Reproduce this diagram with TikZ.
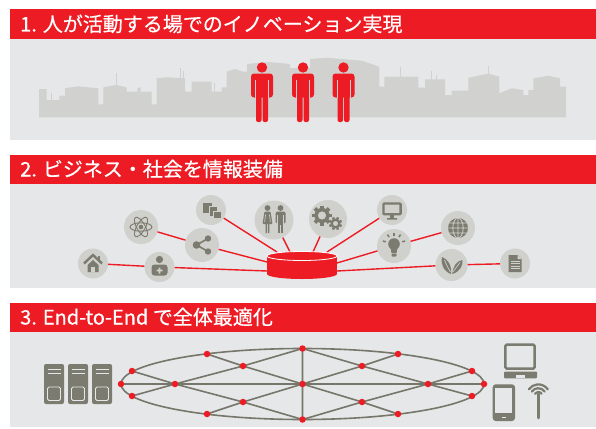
\documentclass[tikz,border=0pt]{standalone}
\usepackage{fontspec}
\newfontfamily\jpfont[FakeBold=0.5]{Noto Sans CJK JP}
\usepackage{tikz}
\usetikzlibrary{calc}
\definecolor{fjred}{HTML}{ED1C24}
\definecolor{panelgray}{HTML}{E6E7E8}
\definecolor{citygray}{HTML}{D1D1CF}
\definecolor{iconbg}{HTML}{D0D0CC}
\definecolor{icongray}{HTML}{7B7B6F}
\definecolor{netgray}{HTML}{76766A}

\begin{document}
\begin{tikzpicture}[x=1pt, y=-1pt]

        % Setup the styles for bars, icons and the mesh
        \tikzset{bar/.style={fill=fjred},
                 panel/.style={fill=panelgray},
                 title/.style={anchor=base west, inner sep=0pt, text=white,
                               font=\jpfont\fontsize{20}{24}\selectfont},
                 icon/.style={circle, fill=iconbg, inner sep=0pt, minimum size=#1},
                 icon/.default=30pt,
                 link/.style={draw=fjred, line width=1.4pt},
                 glyph/.style={fill=icongray, draw=none},
                 mesh/.style={draw=netgray, line width=1.6pt},
                 dot/.style={circle, fill=fjred, inner sep=0pt, minimum size=6.5pt}}

        \useasboundingbox (0,0) rectangle (596,428);

        % Draw the panels
        \foreach \top/\bot in {9.5/140, 154.5/287.5, 302.5/427} {
            \fill[panel] (10,\top) rectangle (596,\bot);
            \fill[bar] (10,\top) rectangle (596,\top+29.5);
        }
        \node[title] at (20, 31.5)  (title1) {1. 人が活動する場でのイノベーション実現};
        \node[title] at (20, 176.5) (title2) {2. ビジネス・社会を情報装備};
        \node[title] at (20, 324.5) (title3) {3. End-to-End で全体最適化};

        % Draw the skyline
        \fill[citygray] (39,117.3) -- (39,89) -- (46.7,89) -- (46.7,100) -- (59.3,100)
            -- (59.3,95.7) -- (65,95.7) -- (65,88.3) -- (78.3,86.3) -- (98.3,88.3)
            -- (98.3,104.3) -- (103.3,104.3) -- (103.3,87.3) -- (116,85) -- (126.7,87.3)
            -- (126.7,91.7) -- (137.3,91.7) -- (137.3,87.7) -- (140.7,87.7) -- (140.7,91.7)
            -- (151.7,91.7) -- (151.7,104.3) -- (156.7,104.3) -- (156.7,78.3) -- (166.7,77.3)
            -- (185,78.3) -- (185,91.7) -- (191.7,91.7) -- (191.7,81.7) -- (211.7,81.7)
            -- (211.7,91.7) -- (221.7,91.7) -- (221.7,87.3) -- (226.7,87.3) -- (226.7,71.7)
            -- (235,69) -- (243.3,71.7) -- (247,71.7) -- (247,64) -- (268,62) -- (290,64)
            -- (290,68) -- (310,68) -- (310,59) -- (326.7,57.7) -- (353.3,60) -- (361.7,60.7)
            -- (379.3,66.7) -- (379.3,86.7) -- (384.3,86.7) -- (384.3,76.7) -- (418.3,76.7)
            -- (418.3,87.7) -- (425,87.7) -- (425,79.3) -- (445,79.3) -- (445,95)
            -- (451.7,95) -- (451.7,90.7) -- (468.3,90.7) -- (468.3,77.7) -- (488.3,73.7)
            -- (499.3,76.7) -- (499.3,93.3) -- (511.7,88.3) -- (523.3,90) -- (523.3,95)
            -- (528.3,95) -- (528.3,90) -- (533.3,90) -- (533.3,78.3) -- (548.3,75.7)
            -- (560,78.3) -- (560,86.7) -- (566,86.7) -- (566,117.3) -- cycle;
        \draw[citygray, line width=0.8pt]
            (51.7,100) -- (51.7,93)   (116,86) -- (116,73)     (180,79) -- (180,68)
            (183,79) -- (183,71)      (214,92) -- (214,83)     (400,77) -- (400,67)
            (431.7,80) -- (431.7,71)  (436.7,80) -- (436.7,75) (488.3,74) -- (488.3,66);

        % Draw the people
        \foreach \cx in {262, 303, 343.5} {
            \fill[fjred] (\cx, 67.5) circle (5.2);
            \fill[fjred, rounded corners=3pt] (\cx-11, 73.5) rectangle (\cx+11, 97.5);
            \fill[fjred, rounded corners=2pt] (\cx-6, 94) rectangle (\cx-0.5, 122);
            \fill[fjred, rounded corners=2pt] (\cx+0.5, 94) rectangle (\cx+6, 122);
            \draw[citygray, line width=0.8pt] (\cx-6.6, 80) -- (\cx-6.6, 98)
                                              (\cx+6.6, 80) -- (\cx+6.6, 98);
        }

        % Draw the icons round the database
        \node[icon]        at (93, 263.5)   (house)   {};
        \node[icon]        at (159.5, 267)  (doctor)  {};
        \node[icon=34pt]   at (141, 227)    (atom)    {};
        \node[icon=34pt]   at (202, 245)    (share)   {};
        \node[icon]        at (211, 210)    (copy)    {};
        \node[icon=39pt]   at (274, 220)    (couple)  {};
        \node[icon=38pt]   at (328, 219)    (gears)   {};
        \node[icon]        at (392, 210)    (monitor) {};
        \node[icon=34pt]   at (394, 246)    (bulb)    {};
        \node[icon=34pt]   at (458, 228)    (globe)   {};
        \node[icon=32pt]   at (451.5, 265)  (leaf)    {};
        \node[icon]        at (515, 263.5)  (doc)     {};

        \coordinate (db)   at (302, 256);
        \coordinate (db-a) at (267, 271);
        \coordinate (db-b) at (267, 262);
        \coordinate (db-c) at (277, 252);
        \coordinate (db-d) at (290, 252);
        \coordinate (db-e) at (313, 252);
        \coordinate (db-f) at (327, 252);
        \coordinate (db-g) at (337, 263);
        \coordinate (db-h) at (337, 271);

        % Connect the icons with the database
        \draw[link] (house) -- (doctor)   (doctor) -- (db-a)
                    (atom) -- (share)     (share) -- (db-b)
                    (copy) -- (db-c)      (couple) -- (db-d)
                    (gears) -- (db-e)     (monitor) -- (db-f)
                    (globe) -- (bulb)     (bulb) -- (db-g)
                    (doc) -- (leaf)       (leaf) -- (db-h);

        \fill[fjred] (267, 256) rectangle (337, 274);
        \fill[fjred] (302, 274) ellipse [x radius=35, y radius=5];
        \filldraw[fill=fjred, draw=white, line width=0.8pt] (db) ellipse [x radius=35, y radius=4.5];

        \begin{scope}[shift={(house)}]
            \draw[icongray, line width=2.4pt] (-9,0) -- (0,-8.5) -- (9,0);
            \fill[glyph] (4.5,-7.5) rectangle (7,-3);
            \fill[glyph] (-5.5,1.5) -- (0,-3.5) -- (5.5,1.5) -- (5.5,8.5) -- (-5.5,8.5) -- cycle;
            \fill[iconbg] (-1.8,3.5) rectangle (1.8,8.5);
        \end{scope}

        \begin{scope}[shift={(doctor)}]
            \fill[glyph] (0,-7.5) circle (3.6);
            \fill[glyph, rounded corners=3pt] (-8,8.5) -- (-8,-2.5) -- (8,-2.5) -- (8,8.5) -- cycle;
            \fill[iconbg] (-0.9,0.5) rectangle (0.9,6.5) (-3,2.6) rectangle (3,4.4);
        \end{scope}

        \begin{scope}[shift={(atom)}]
            \foreach \a in {0,60,120}
                \draw[icongray, line width=0.9pt, rotate=\a] (0,0) ellipse [x radius=11, y radius=4.2];
            \fill[glyph] (0,0) circle (2.3);
        \end{scope}

        \begin{scope}[shift={(share)}]
            \draw[icongray, line width=1.6pt] (6,-6.5) -- (-5.5,0) -- (6,6.5);
            \fill[glyph] (-5.5,0) circle (3.8) (6,-6.5) circle (3.2) (6,6.5) circle (3.2);
        \end{scope}

        \begin{scope}[shift={(copy)}]
            \filldraw[fill=icongray, draw=iconbg, line width=0.8pt] (-9,-7.5) rectangle (1,3);
            \filldraw[fill=icongray, draw=iconbg, line width=0.8pt] (-2,-4) rectangle (6,6);
            \filldraw[fill=icongray, draw=iconbg, line width=0.8pt] (2.5,1) rectangle (10.5,8.5);
        \end{scope}

        \begin{scope}[shift={(couple)}]
            \fill[glyph] (-6.5,-12) circle (2.9);
            \fill[glyph, rounded corners=1pt] (-9.5,-8.5) -- (-3.5,-8.5) -- (-1.5,4) -- (-11.5,4) -- cycle;
            \fill[glyph] (-8.3,3) rectangle (-7,13) (-6,3) rectangle (-4.7,13);
            \draw[iconbg, line width=0.6pt] (-8.4,-5.5) -- (-9.4,2) (-4.6,-5.5) -- (-3.6,2);
            \fill[glyph] (6.5,-12) circle (2.9);
            \fill[glyph, rounded corners=1.5pt] (1.5,-8.5) rectangle (11.5,3.5);
            \fill[glyph] (3.8,2) rectangle (9.2,13);
            \draw[iconbg, line width=0.7pt] (3.6,-5) -- (3.6,3.5) (9.4,-5) -- (9.4,3.5) (6.5,5) -- (6.5,13);
        \end{scope}

        \begin{scope}[shift={(gears)}]
            \begin{scope}[shift={(-6,-3.5)}]
                \fill[glyph, even odd rule] (0,0) circle (7.6) (0,0) circle (4.2);
                \foreach \a in {0,45,...,315}
                    \fill[glyph, rotate=\a] (-1.8,6.5) rectangle (1.8,10);
            \end{scope}
            \begin{scope}[shift={(7.5,4.5)}]
                \fill[glyph, even odd rule] (0,0) circle (4.9) (0,0) circle (2.6);
                \foreach \a in {22.5,67.5,...,337.5}
                    \fill[glyph, rotate=\a] (-1.2,4.2) rectangle (1.2,6.6);
            \end{scope}
        \end{scope}

        \begin{scope}[shift={(monitor)}]
            \draw[icongray, line width=2.3pt, rounded corners=0.8pt] (-8.6,-6.5) rectangle (8.6,4.2);
            \fill[glyph] (-1.8,5) rectangle (1.8,8) (-5,8) rectangle (5,9.5);
        \end{scope}

        \begin{scope}[shift={(bulb)}]
            \fill[glyph] (0,-2) circle (5.8);
            \fill[glyph] (-3.8,0.5) -- (3.8,0.5) -- (2.5,7) -- (-2.5,7) -- cycle;
            \fill[glyph, rounded corners=0.8pt] (-2.5,7.6) rectangle (2.5,10.5);
            \begin{scope}[shift={(0,-2)}]
                \foreach \a in {15,55,90,125,165}
                    \draw[icongray, line width=1.5pt] ({-\a}:8.5) -- ({-\a}:11.5);
            \end{scope}
        \end{scope}

        \begin{scope}[shift={(globe)}]
            \fill[glyph] (0,0) circle (10);
            \begin{scope}
                \clip (0,0) circle (10);
                \draw[iconbg, line width=0.8pt] (-10,0) -- (10,0) (-10,-5) -- (10,-5)
                    (-10,5) -- (10,5) (0,-10) -- (0,10) (0,0) ellipse [x radius=5.2, y radius=10];
            \end{scope}
        \end{scope}

        \begin{scope}[shift={(leaf)}]
            \fill[glyph] (-0.5,9) .. controls (-9,6) and (-11,-3) .. (-9.5,-8)
                .. controls (-4,-6) and (0.5,0) .. (-0.5,9) -- cycle;
            \fill[glyph] (0.8,9) .. controls (9,6.5) and (11.5,0) .. (11,-5)
                .. controls (5,-4) and (1.5,1) .. (0.8,9) -- cycle;
            \draw[iconbg, line width=0.7pt] (-1,7) .. controls (-4,2) .. (-7,-5)
                (1.3,7) .. controls (5,2) .. (8.5,-2.5);
        \end{scope}

        \begin{scope}[shift={(doc)}]
            \fill[glyph] (-6.5,-8.5) -- (2.5,-8.5) -- (6.5,-4.5) -- (6.5,8.5) -- (-6.5,8.5) -- cycle;
            \fill[iconbg] (2.5,-8.5) -- (2.5,-4.5) -- (6.5,-4.5) -- cycle;
            \foreach \y in {-2.5,0,2.5,5}
                \draw[iconbg, line width=0.7pt] (-4.5,\y) -- (4.5,\y);
        \end{scope}

        % Draw the mesh of the network
        \coordinate (west)   at (121, 384);
        \coordinate (east)   at (484, 384);
        \coordinate (top)    at (302.5, 348.5);
        \coordinate (bottom) at (302.5, 419.5);
        \coordinate (nw1)    at (132, 371);
        \coordinate (sw1)    at (132, 396);
        \coordinate (nw2)    at (207, 354);
        \coordinate (sw2)    at (207, 414);
        \coordinate (ne2)    at (398, 354);
        \coordinate (se2)    at (398, 414);
        \coordinate (ne1)    at (472, 371);
        \coordinate (se1)    at (472, 396);
        \coordinate (in1)    at (175, 384);
        \coordinate (in2)    at (243, 366);
        \coordinate (in3)    at (243, 402);
        \coordinate (hub)    at (302.5, 384);
        \coordinate (in4)    at (362, 366);
        \coordinate (in5)    at (362, 402);
        \coordinate (in6)    at (428, 384);

        \draw[mesh] (302.5, 384) ellipse [x radius=181.5, y radius=35.5];
        \draw[mesh] (west) -- (in1) -- (hub) -- (in6) -- (east)
                    (top) -- (hub) -- (bottom)
                    (nw1) -- (in1) -- (in3) -- (bottom)
                    (sw1) -- (in1) -- (in2) -- (top)
                    (nw2) -- (in2) -- (hub) -- (in5) -- (se2)
                    (sw2) -- (in3) -- (hub) -- (in4) -- (ne2)
                    (top) -- (in4) -- (in6) -- (se1)
                    (bottom) -- (in5) -- (in6) -- (ne1);

        \foreach \n in {west, east, top, bottom, nw1, sw1, nw2, sw2, ne2, se2,
                        ne1, se1, in1, in2, in3, hub, in4, in5, in6}
            \node[dot] at (\n) (dot-\n) {};

        % Draw the servers and the devices
        \foreach \x in {44, 68, 92} {
            \fill[glyph, rounded corners=2pt] (\x, 364) rectangle (\x+20, 404);
            \draw[panelgray, line width=1pt] (\x+3.5, 369.5) -- (\x+16.5, 369.5)
                                             (\x+3.5, 373.5) -- (\x+16.5, 373.5);
            \draw[panelgray, line width=0.8pt, rounded corners=1.5pt] (\x+3.5, 387) rectangle (\x+16.5, 400.5);
        }

        \draw[icongray, line width=2.5pt, rounded corners=1.5pt] (505.3, 344.6) rectangle (534.7, 368.7);
        \fill[glyph, rounded corners=1pt] (504, 371.5) rectangle (537, 378.3);
        \fill[panelgray] (516, 375) rectangle (525, 378.4);

        \fill[glyph, rounded corners=3pt] (492.7, 384.3) rectangle (515, 421);
        \fill[panelgray] (495.3, 388.3) rectangle (512.4, 413);
        \draw[panelgray, line width=0.8pt] (501.5, 417) -- (506.2, 417);

        \coordinate (ant) at (538.3, 396);
        \draw[icongray, line width=2.8pt, line cap=round] (538.3, 394) -- (538.3, 418);
        \begin{scope}[shift={(ant)}]
            \foreach \r in {4, 7.8, 11.6}
                \draw[icongray, line width=2.2pt, line cap=round] (-35:\r) arc[start angle=-35, end angle=-145, radius=\r];
        \end{scope}

\end{tikzpicture}
\end{document}
